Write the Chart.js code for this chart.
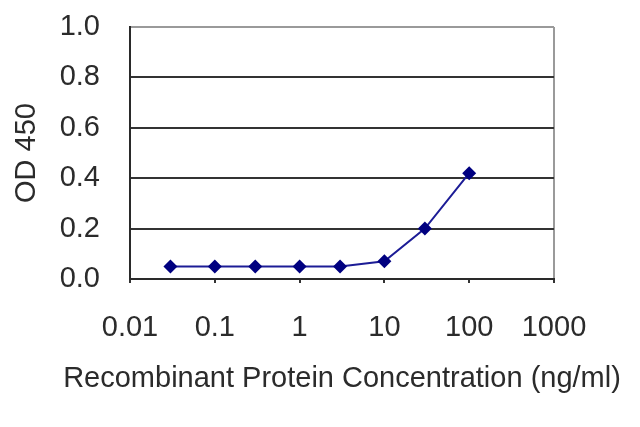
<!DOCTYPE html>
<html>
<head>
<meta charset="utf-8">
<script src="https://cdn.jsdelivr.net/npm/chart.js@4/dist/chart.umd.min.js"></script>
<style>
  body { margin: 0; background: #fff; }
  canvas { display: block; }
</style>
</head>
<body>
<canvas id="elisa-chart" width="640" height="427"></canvas>
<script>
// Values
var concentrations = [0.03, 0.1, 0.3, 1, 3, 10, 30, 100];
var od450 = [0.05, 0.05, 0.05, 0.05, 0.05, 0.07, 0.2, 0.42];
var xTickValues = [0.01, 0.1, 1, 10, 100, 1000];
var xTickLabels = ['0.01', '0.1', '1', '10', '100', '1000'];
var xTitle = 'Recombinant Protein Concentration (ng/ml)';

var textColor = '#2b2b2b';
var fontFamily = '"Liberation Sans", Arial, sans-serif';

// x title is wider than the plot, so draw it ourselves instead of the squeezed axis title
var xTitlePlugin = {
    id: 'xTitle',
    afterDraw: function (chart) {
        var ctx = chart.ctx;
        var area = chart.chartArea;
        ctx.save();
        ctx.fillStyle = textColor;
        ctx.font = '29px ' + fontFamily;
        ctx.textAlign = 'center';
        ctx.textBaseline = 'middle';
        ctx.fillText(xTitle, (area.left + area.right) / 2, 379);
        ctx.restore();
    }
};

var canvas = document.getElementById('elisa-chart');
var chart = new Chart(canvas, {
    type: 'line',
    data: {
        datasets: [{
            data: concentrations.map(function (c, i) { return { x: c, y: od450[i] }; }),
            borderColor: '#1c1c96',
            borderWidth: 2,
            backgroundColor: '#000080',
            pointStyle: 'rectRot',
            pointRadius: 7,
            pointBorderWidth: 0,
            tension: 0,
            fill: false
        }]
    },
    options: {
        responsive: false,
        animation: false,
        layout: { padding: { top: 27, right: 86, left: 0, bottom: 0 } },
        plugins: {
            legend: { display: false },
            tooltip: { enabled: false }
        },
        scales: {
            x: {
                type: 'logarithmic',
                min: 0.01,
                max: 1000,
                afterBuildTicks: function (scale) {
                    scale.ticks = xTickValues.map(function (v) { return { value: v }; });
                },
                afterFit: function (scale) { scale.height = 148; },
                ticks: {
                    autoSkip: false,
                    maxRotation: 0,
                    padding: 28,
                    color: textColor,
                    font: { family: fontFamily, size: 29 },
                    callback: function (value) {
                        var i = xTickValues.indexOf(value);
                        return i >= 0 ? xTickLabels[i] : '';
                    }
                },
                grid: {
                    drawOnChartArea: true,
                    color: function (ctx) {
                        return ctx.tick && ctx.tick.value === 1000 ? '#9a9a9a' : 'rgba(0,0,0,0)';
                    },
                    lineWidth: 2,
                    tickColor: '#333',
                    tickLength: 4
                },
                border: { color: '#2a2a2a', width: 2 }
            },
            y: {
                min: 0,
                max: 1,
                afterFit: function (scale) {
                    scale.width = 130;
                    scale.paddingTop = 0;
                    scale.paddingBottom = 0;
                },
                ticks: {
                    stepSize: 0.2,
                    padding: 30,
                    color: textColor,
                    font: { family: fontFamily, size: 29 },
                    callback: function (value) { return value.toFixed(1); }
                },
                grid: {
                    drawTicks: false,
                    color: function (ctx) {
                        return ctx.tick && ctx.tick.value === 1 ? '#9a9a9a' : '#333';
                    },
                    lineWidth: 2
                },
                border: { color: '#2a2a2a', width: 2 },
                title: {
                    display: true,
                    text: 'OD 450',
                    color: textColor,
                    font: { family: fontFamily, size: 29 },
                    padding: { top: 10, bottom: 0 }
                }
            }
        }
    },
    plugins: [xTitlePlugin]
});
</script>
</body>
</html>
